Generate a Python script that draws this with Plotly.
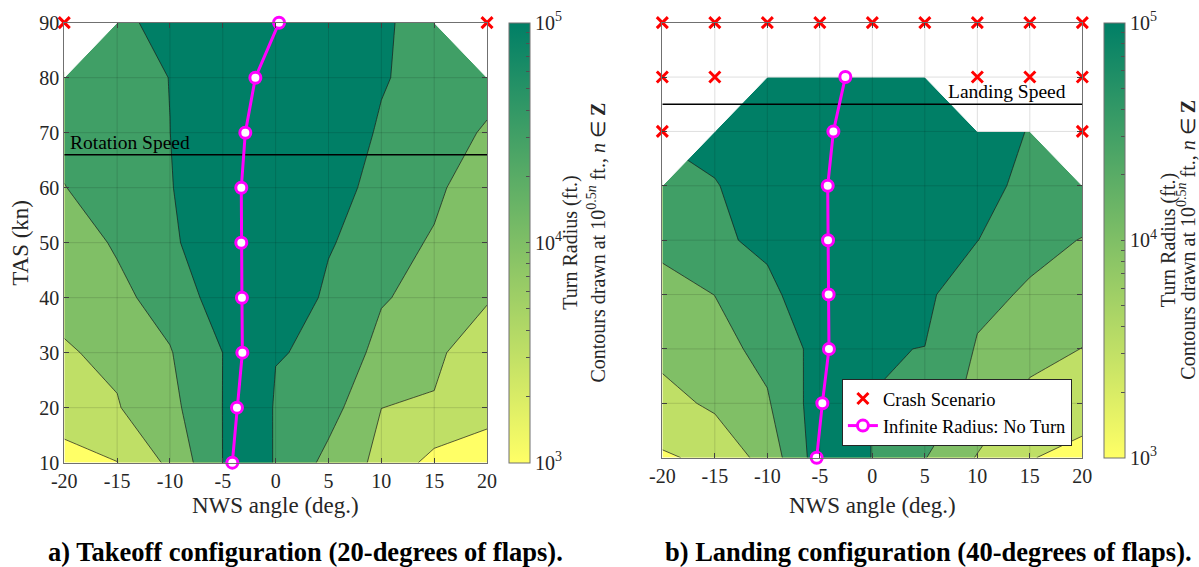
import numpy as np
import plotly.graph_objects as go

# ---------------- data ----------------
nws = [-20, -15, -10, -5, 0, 5, 10, 15, 20]          # NWS angle (deg.)
tas = [10, 20, 30, 40, 50, 60, 70, 80, 90]            # TAS (kn)
nan = None                                           # crash scenario (no radius)

# log10 of turn radius (ft.); rows follow tas, columns follow nws
logR_takeoff = [
    [3.35, 3.49, 4.10, 5.005, 4.9997, 4.35, 3.873, 3.34, 3.20],
    [3.70, 3.971, 4.358, 5.005, 4.9997, 4.699, 4.002, 3.955, 3.69],
    [3.965, 4.082, 4.472, 5.002, 5.0001, 4.9997, 4.296, 4.10, 3.68],
    [4.10, 4.40, 4.67, 5.25, 5.50, 4.881, 4.55, 4.295, 4.05],
    [4.30, 4.544, 4.90, 5.40, 5.80, 5.05, 4.698, 4.45, 4.10],
    [4.487, 4.75, 4.965, 5.50, 6.00, 5.25, 4.797, 4.60, 4.183],
    [4.65, 4.80, 4.997, 5.50, 6.00, 5.34, 4.938, 4.75, 4.44],
    [4.70, 4.80, 5.007, 5.50, 6.00, 5.50, 5.043, 4.80, 4.70],
    [nan, 4.80, 5.28, 5.80, 6.00, 5.50, 5.07, 4.80, nan],
]
logR_landing = [
    [3.446, 3.60, 4.20, 5.25, 4.993, 4.52, 3.97, 3.52, 3.368],
    [3.817, 4.096, 4.45, 5.25, 4.995, 4.80, 4.352, 3.819, 3.70],
    [4.15, 4.35, 4.627, 5.17, 5.02, 4.994, 4.461, 4.20, 3.99],
    [4.362, 4.504, 4.624, 5.996, 5.50, 5.116, 4.60, 4.454, 4.30],
    [4.60, 4.75, 5.308, 5.50, 5.60, 5.30, 5.01, 4.60, 4.488],
    [4.80, 4.967, 5.30, 5.60, 5.70, 5.50, 5.25, 4.804, 4.70],
    [nan, 5.20, 5.50, 5.70, 5.80, 5.60, 5.30, 4.97, nan],
    [nan, nan, 5.30, 5.60, 5.60, 5.30, nan, nan, nan],
    [nan, nan, nan, nan, nan, nan, nan, nan, nan],
]

# infinite radius (no turn) curve
noturn_takeoff_nws = [-4.10, -3.66, -3.15, -3.19, -3.25, -3.25, -2.87, -1.92, 0.32]
noturn_takeoff_tas = [10, 20, 30, 40, 50, 60, 70, 80, 90]
noturn_landing_nws = [-5.30, -4.76, -4.13, -4.16, -4.22, -4.25, -3.71, -2.57]
noturn_landing_tas = [10, 20, 30, 40, 50, 60, 70, 80]

rotation_speed = 66
landing_speed = 75

contour_levels = [3.5, 4.0, 4.5, 5.0]          # log10 radius, 10^(0.5 n)
band_colors = ['#FFFF66', '#BFDF66', '#80BF66', '#409F66', '#007F66']
cbar_log_range = [3, 5]
cbar_minor = [m * 10 ** e for e in (3, 4) for m in range(1, 10)] + [10 ** 5]

# ---------------- styling ----------------
FONT = 'Liberation Serif'
TXT = '#262626'
summer_r = [[0, '#FFFF66'], [1, '#007F66']]
band_scale = [[i / (len(band_colors) - 1), c] for i, c in enumerate(band_colors)]

fig = go.Figure()


def nan_cells(z):
    zz = np.array([[np.nan if v is None else v for v in row] for row in z], dtype=float)
    xs, ys = [], []
    for j in range(len(tas) - 1):
        for i in range(len(nws) - 1):
            corners = [(i, j), (i + 1, j), (i + 1, j + 1), (i, j + 1)]
            bad = [k for k, (a, b) in enumerate(corners) if np.isnan(zz[b, a])]
            if len(bad) >= 2:
                pts = corners
            elif len(bad) == 1:
                k = bad[0]
                pts = [corners[(k - 1) % 4], corners[k], corners[(k + 1) % 4]]
            else:
                continue
            for a, b in pts + [pts[0]]:
                xs.append(nws[a]); ys.append(tas[b])
            xs.append(None); ys.append(None)
    cx, cy = [], []
    for j in range(len(tas)):
        for i in range(len(nws)):
            if np.isnan(zz[j, i]):
                cx.append(nws[i]); cy.append(tas[j])
    return xs, ys, cx, cy


def add_panel(z, nt_x, nt_y, speed, xa, ya, legend, cb_x, cb_len, cb_y):
    fig.add_trace(go.Contour(
        x=nws, y=tas, z=z,
        contours=dict(start=contour_levels[0], end=contour_levels[-1],
                      size=contour_levels[1] - contour_levels[0],
                      coloring='fill', showlines=True),
        colorscale=band_scale, showscale=False,
        line=dict(color='#1a1a1a', width=0.7, smoothing=0),
        hoverinfo='skip', xaxis=xa, yaxis=ya))
    wx, wy, cx, cy = nan_cells(z)
    fig.add_trace(go.Scatter(x=wx, y=wy, mode='lines', fill='toself',
                             fillcolor='white', line=dict(color='white', width=1),
                             hoverinfo='skip', showlegend=False, xaxis=xa, yaxis=ya))
    gx, gy = [], []
    for v in nws[1:-1]:
        gx += [v, v, None]; gy += [tas[0], tas[-1], None]
    for v in tas[1:-1]:
        gx += [nws[0], nws[-1], None]; gy += [v, v, None]
    fig.add_trace(go.Scatter(x=gx, y=gy, mode='lines',
                             line=dict(color='rgba(0,0,0,0.13)', width=1),
                             hoverinfo='skip', showlegend=False, xaxis=xa, yaxis=ya))
    fig.add_trace(go.Scatter(x=[nws[0], nws[-1]], y=[speed, speed], mode='lines',
                             line=dict(color='black', width=1.6),
                             hoverinfo='skip', showlegend=False, xaxis=xa, yaxis=ya))
    fig.add_trace(go.Scatter(x=cx, y=cy, mode='markers', name='Crash Scenario',
                             marker=dict(symbol='x-thin', size=11, color='#FF0000',
                                         line=dict(color='#FF0000', width=3)),
                             cliponaxis=False, showlegend=legend, legendrank=1,
                             hoverinfo='skip', xaxis=xa, yaxis=ya))
    fig.add_trace(go.Scatter(x=nt_x, y=nt_y, mode='lines+markers',
                             name='Infinite Radius: No Turn',
                             line=dict(color='#FF00FF', width=3),
                             marker=dict(symbol='circle', size=11, color='white',
                                         line=dict(color='#FF00FF', width=3)),
                             cliponaxis=False, showlegend=legend, legendrank=2,
                             hoverinfo='skip', xaxis=xa, yaxis=ya))
    # colour bar (continuous, log radius)
    fig.add_trace(go.Scatter(
        x=[None], y=[None], mode='markers', showlegend=False, hoverinfo='skip',
        marker=dict(color=cbar_log_range, cmin=cbar_log_range[0], cmax=cbar_log_range[1],
                    colorscale=summer_r, showscale=True,
                    colorbar=dict(
                        x=cb_x, xanchor='left', xpad=0, ypad=0,
                        y=cb_y, yanchor='middle', len=cb_len, lenmode='fraction',
                        thickness=21, outlinecolor='#707070', outlinewidth=1,
                        tickvals=[float(np.log10(v)) for v in cbar_minor],
                        ticktext=[('10<sup>%d</sup>' % round(np.log10(v)))
                                  if abs(np.log10(v) - round(np.log10(v))) < 1e-9 else ''
                                  for v in cbar_minor],
                        ticks='inside', ticklen=4, tickcolor='#505050',
                        tickfont=dict(family=FONT, size=20, color=TXT))),
        xaxis=xa, yaxis=ya))


add_panel(logR_takeoff, noturn_takeoff_nws, noturn_takeoff_tas, rotation_speed,
          'x', 'y', False, 0.4243, 0.776, 0.572)
add_panel(logR_landing, noturn_landing_nws, noturn_landing_tas, landing_speed,
          'x2', 'y2', True, 0.9208, 0.7672, 0.5764)

ax_common = dict(showline=True, linecolor='#707070', linewidth=1, mirror='ticks',
                 ticks='inside', ticklen=5, tickcolor='#404040', showgrid=False,
                 zeroline=False, automargin=False,
                 tickfont=dict(family=FONT, size=20, color=TXT))
fig.update_layout(
    template='none',
    width=1199, height=567, margin=dict(l=0, r=0, t=0, b=0, pad=0, autoexpand=False),
    paper_bgcolor='white', plot_bgcolor='white',
    font=dict(family=FONT, color=TXT),
    xaxis=dict(domain=[0.0536, 0.4062], anchor='y', range=[nws[0], nws[-1]],
               tickvals=nws, ticktext=[str(v) for v in nws], **ax_common),
    yaxis=dict(domain=[0.184, 0.96], anchor='x', range=[tas[0], tas[-1]],
               tickvals=tas, ticktext=[str(v) for v in tas], **ax_common),
    xaxis2=dict(domain=[0.5524, 0.9027], anchor='y2', range=[nws[0], nws[-1]],
                tickvals=nws, ticktext=[str(v) for v in nws], **ax_common),
    yaxis2=dict(domain=[0.1928, 0.96], anchor='x2', range=[tas[0], tas[-1]],
                tickvals=tas, showticklabels=False, **ax_common),
    legend=dict(x=0.894, y=0.2134, xanchor='right', yanchor='bottom',
                bgcolor='white', bordercolor='#262626', borderwidth=1,
                font=dict(family=FONT, size=18.5, color='black'), tracegroupgap=0),
    showlegend=True,
)

cb_title1 = 'Turn Radius (ft.)'
cb_title2 = 'Contours drawn at 10<sup>0.5<i>n</i></sup> ft., <i>n</i> \u2208 <b>Z</b>'


def txt(text, x, y, size, angle=0, color=TXT, **kw):
    d = dict(text=text, x=x, y=y, xref='paper', yref='paper', xanchor='center',
             yanchor='middle', textangle=angle, showarrow=False,
             font=dict(family=FONT, size=size, color=color))
    d.update(kw)
    return d


ann = [
    txt('TAS (kn)', 0.0175, 0.572, 23, -90),
    txt('NWS angle (deg.)', 0.23, 0.1093, 23),
    txt('NWS angle (deg.)', 0.7275, 0.1093, 23),
    txt(cb_title1, 0.4762, 0.572, 20, -90),
    txt(cb_title2, 0.4970, 0.572, 20, -90),
    txt(cb_title1, 0.9741, 0.5764, 20, -90),
    txt(cb_title2, 0.9896, 0.5764, 20, -90),
    txt('<b>a) Takeoff configuration (20-degrees of flaps).</b>', 0.2544, 0.026, 26.5,
        color='black'),
    txt('<b>b) Landing configuration (40-degrees of flaps).</b>', 0.774, 0.026, 26.5,
        color='black'),
    dict(text='Rotation Speed', x=nws[0], y=rotation_speed, xref='x', yref='y',
         xanchor='left', yanchor='bottom', xshift=4, yshift=0, showarrow=False,
         font=dict(family=FONT, size=19.5, color='black')),
    dict(text='Landing Speed', x=nws[-1], y=landing_speed, xref='x2', yref='y2',
         xanchor='right', yanchor='bottom', xshift=-14, yshift=0, showarrow=False,
         font=dict(family=FONT, size=19.5, color='black')),
]
fig.update_layout(annotations=ann)

fig.write_html('out.html')
